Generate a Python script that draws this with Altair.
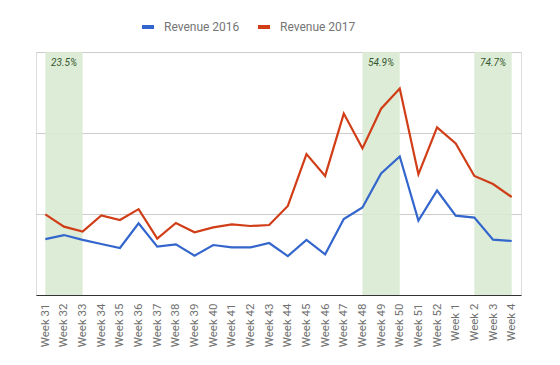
import altair as alt
import pandas as pd

weeks = ["Week 31", "Week 32", "Week 33", "Week 34", "Week 35", "Week 36", "Week 37",
         "Week 38", "Week 39", "Week 40", "Week 41", "Week 42", "Week 43", "Week 44",
         "Week 45", "Week 46", "Week 47", "Week 48", "Week 49", "Week 50", "Week 51",
         "Week 52", "Week 1", "Week 2", "Week 3", "Week 4"]
rev_2016 = [6.9, 7.4, 6.8, 6.3, 5.8, 8.85, 5.97, 6.26, 4.86, 6.17, 5.88, 5.88, 6.42,
            4.81, 6.79, 5.02, 9.38, 10.8, 15.0, 17.1, 9.2, 12.9, 9.8, 9.55, 6.83, 6.67]
rev_2017 = [9.96, 8.44, 7.82, 9.83, 9.26, 10.6, 6.95, 8.89, 7.74, 8.35, 8.72, 8.52, 8.64,
            11.0, 17.4, 14.7, 22.4, 18.1, 23.0, 25.5, 14.9, 20.7, 18.7, 14.7, 13.7, 12.1]
series_names = ["Revenue 2016", "Revenue 2017"]
series_colors = ["#3366cc", "#d03d17"]

band_start = ["Week 31", "Week 48", "Week 2"]
band_end = ["Week 33", "Week 50", "Week 4"]
band_mid = ["Week 32", "Week 49", "Week 3"]
band_label = ["23.5%", "54.9%", "74.7%"]
y_max = 30
label_y = 28.6

lines_df = pd.DataFrame({
    "week": weeks * 2,
    "value": rev_2016 + rev_2017,
    "series": [series_names[0]] * len(weeks) + [series_names[1]] * len(weeks),
})
bands_df = pd.DataFrame({"start": band_start, "end": band_end, "mid": band_mid,
                         "label": band_label, "top": [y_max] * 3, "bottom": [0] * 3,
                         "ly": [label_y] * 3})

xscale = alt.Scale(type="point", padding=0.5, domain=weeks)
yscale = alt.Scale(domain=[0, y_max], nice=False)

bands = alt.Chart(bands_df).mark_rect(color="#d9ead3", opacity=0.9).encode(
    x=alt.X("start:N", scale=xscale, sort=weeks),
    x2="end:N",
    y=alt.Y("top:Q", scale=yscale),
    y2="bottom:Q",
)

labels = alt.Chart(bands_df).mark_text(
    fontStyle="italic", fontSize=10, color="#35582f", font="Roboto", baseline="middle"
).encode(
    x=alt.X("mid:N", scale=xscale, sort=weeks),
    y=alt.Y("ly:Q", scale=yscale),
    text="label:N",
)

lines = alt.Chart(lines_df).mark_line(strokeWidth=2.2).encode(
    x=alt.X("week:N", scale=xscale, sort=weeks,
            axis=alt.Axis(title=None, labelAngle=270, labelFontSize=11.5, labelColor="#707070",
                          labelFont="Roboto", ticks=False, labelPadding=8, domainColor="#333333",
                          domainWidth=1.2, grid=False, labelBaseline="middle", labelAlign="right")),
    y=alt.Y("value:Q", scale=yscale,
            axis=alt.Axis(title=None, labels=False, ticks=False, domain=False,
                          values=[0, 10, 20, 30], gridColor="#cccccc", gridWidth=1)),
    color=alt.Color("series:N", scale=alt.Scale(domain=series_names, range=series_colors),
                    legend=alt.Legend(title=None, orient="none", direction="horizontal",
                                      legendX=104, legendY=-33, symbolType="stroke",
                                      symbolStrokeWidth=4, symbolSize=144, labelFontSize=12,
                                      labelColor="#757575", labelFont="Roboto", labelOffset=8,
                                      columnPadding=10)),
)

chart = alt.layer(bands, lines, labels).properties(
    width=485, height=243,
    autosize=alt.AutoSizeParams(type="none"),
    padding={"left": 28, "top": 44, "right": 20, "bottom": 60},
).configure_view(stroke=None).configure(background="white")

chart.save("out.html", embed_options={"renderer": "svg", "actions": False})
